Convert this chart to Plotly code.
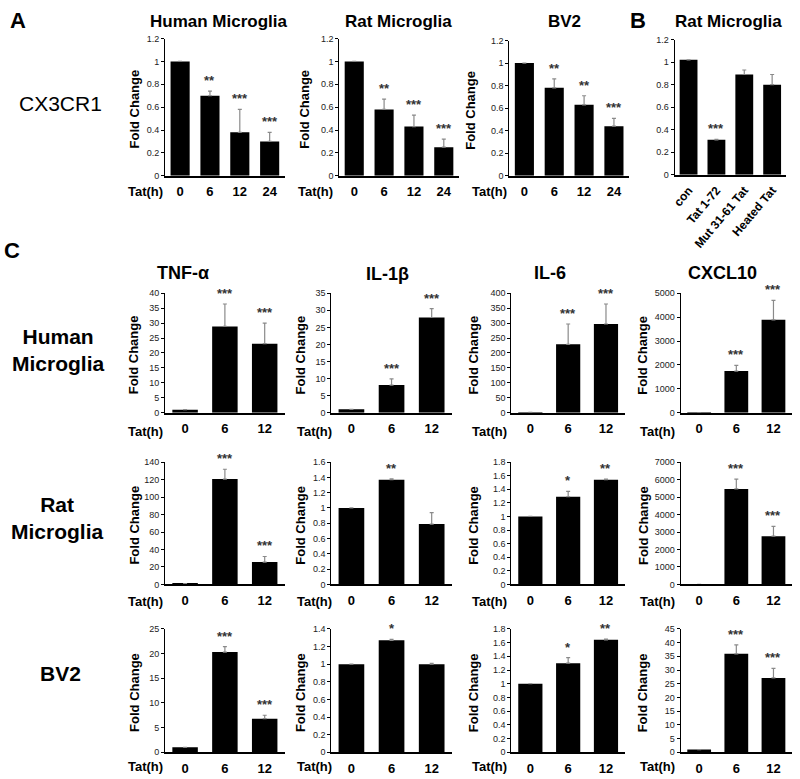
import plotly.graph_objects as go

W, H = 800, 779

# ---------------- DATA ----------------
times_A = ["0", "6", "12", "24"]
times_C = ["0", "6", "12"]
b_groups = ["con", "Tat 1-72", "Mut 31-61 Tat", "Heated Tat"]

# Panel A: CX3CR1
cx3_human = [1.0, 0.70, 0.38, 0.30]
cx3_human_err = [0, 0.04, 0.20, 0.08]
cx3_human_sig = ["", "**", "***", "***"]
cx3_rat = [1.0, 0.58, 0.43, 0.25]
cx3_rat_err = [0, 0.09, 0.10, 0.07]
cx3_rat_sig = ["", "**", "***", "***"]
cx3_bv2 = [1.0, 0.78, 0.63, 0.44]
cx3_bv2_err = [0, 0.08, 0.08, 0.07]
cx3_bv2_sig = ["", "**", "**", "***"]
# Panel B
b_rat = [1.02, 0.31, 0.89, 0.80]
b_rat_err = [0, 0.005, 0.04, 0.09]
b_rat_sig = ["", "***", "", ""]

# Panel C: human microglia
hu_tnf = [1, 28.9, 23.1]; hu_tnf_err = [0, 7.5, 6.9]; hu_tnf_sig = ["", "***", "***"]
hu_il1 = [1, 8.1, 27.9]; hu_il1_err = [0, 1.8, 2.6]; hu_il1_sig = ["", "***", "***"]
hu_il6 = [1, 229, 297]; hu_il6_err = [0, 68, 67]; hu_il6_sig = ["", "***", "***"]
hu_cxcl = [1, 1743, 3887]; hu_cxcl_err = [0, 240, 818]; hu_cxcl_sig = ["", "***", "***"]
# rat microglia
rat_tnf = [1, 120.5, 25.6]; rat_tnf_err = [0, 11.3, 6.4]; rat_tnf_sig = ["", "***", "***"]
rat_il1 = [1, 1.37, 0.79]; rat_il1_err = [0, 0.01, 0.15]; rat_il1_sig = ["", "**", ""]
rat_il6 = [1, 1.29, 1.54]; rat_il6_err = [0, 0.08, 0.01]; rat_il6_sig = ["", "*", "**"]
rat_cxcl = [1, 5466, 2761]; rat_cxcl_err = [0, 560, 560]; rat_cxcl_sig = ["", "***", "***"]
# BV2
bv_tnf = [1, 20.3, 6.8]; bv_tnf_err = [0, 1.1, 0.7]; bv_tnf_sig = ["", "***", "***"]
bv_il1 = [1, 1.27, 1.0]; bv_il1_err = [0, 0.01, 0.01]; bv_il1_sig = ["", "*", ""]
bv_il6 = [1, 1.30, 1.64]; bv_il6_err = [0, 0.08, 0.01]; bv_il6_sig = ["", "*", "**"]
bv_cxcl = [1, 35.9, 27.1]; bv_cxcl_err = [0, 3.3, 3.5]; bv_cxcl_sig = ["", "***", "***"]

# ---------------- LAYOUT SPEC ----------------
# (categories, values, errors, sig, ymax, dtick, x0px, x1px, ytop_px, ybase_px, foldchange_x, tat_x, tat_y)
panels = [
    (times_A, cx3_human, cx3_human_err, cx3_human_sig, 1.2, 0.2, 162, 282, 34, 173, 131, 142, 189),
    (times_A, cx3_rat, cx3_rat_err, cx3_rat_sig, 1.2, 0.2, 337, 457, 34, 173, 302, 313, 189),
    (times_A, cx3_bv2, cx3_bv2_err, cx3_bv2_sig, 1.2, 0.2, 508, 628, 36, 173, 468, 488, 189),
    (b_groups, b_rat, b_rat_err, b_rat_sig, 1.2, 0.2, 674, 786, 35, 172, None, None, None),
]
col_x = [(162, 282, 131, 142), (329, 450, 298, 312), (510, 624, 472, 488), (680, 792, 642, 657)]
row_y = [(292, 413, 432), (463, 587, 604), (632, 757, 771)]
c_data = [
    [(hu_tnf, hu_tnf_err, hu_tnf_sig, 40, 5), (hu_il1, hu_il1_err, hu_il1_sig, 35, 5),
     (hu_il6, hu_il6_err, hu_il6_sig, 400, 50), (hu_cxcl, hu_cxcl_err, hu_cxcl_sig, 5000, 1000)],
    [(rat_tnf, rat_tnf_err, rat_tnf_sig, 140, 20), (rat_il1, rat_il1_err, rat_il1_sig, 1.6, 0.2),
     (rat_il6, rat_il6_err, rat_il6_sig, 1.8, 0.2), (rat_cxcl, rat_cxcl_err, rat_cxcl_sig, 7000, 1000)],
    [(bv_tnf, bv_tnf_err, bv_tnf_sig, 25, 5), (bv_il1, bv_il1_err, bv_il1_sig, 1.4, 0.2),
     (bv_il6, bv_il6_err, bv_il6_sig, 1.8, 0.2), (bv_cxcl, bv_cxcl_err, bv_cxcl_sig, 45, 5)],
]
for r, (yt, yb, ty) in enumerate(row_y):
    for c, (x0, x1, fx, tx) in enumerate(col_x):
        v, e, s, ym, dt = c_data[r][c]
        panels.append((times_C, v, e, s, ym, dt, x0, x1, yt, yb, fx, tx, ty))

FONT = "Arial, Liberation Sans, Helvetica, sans-serif"
fig = go.Figure()
annotations = []
layout = {}

def px(xp):
    return xp / W

def py(yp):
    return 1 - yp / H

for i, (cats, vals, errs, sigs, ymax, dt, x0, x1, yt, yb, fx, tx, ty) in enumerate(panels):
    n = i + 1
    xa = "x" if n == 1 else f"x{n}"
    ya = "y" if n == 1 else f"y{n}"
    xk = "xaxis" if n == 1 else f"xaxis{n}"
    yk = "yaxis" if n == 1 else f"yaxis{n}"
    fig.add_trace(go.Bar(
        x=cats, y=vals, xaxis=xa, yaxis=ya, width=0.64,
        marker=dict(color="black", line=dict(width=0)),
        error_y=dict(type="data", symmetric=False, array=errs, arrayminus=[0] * len(errs),
                     color="#8a8a8a", thickness=1.2, width=2),
        showlegend=False, hoverinfo="skip",
    ))
    is_b = cats is b_groups
    layout[xk] = dict(
        type="category", domain=[px(x0), px(x1)], anchor=ya, range=[-0.5, len(cats) - 0.5],
        showline=True, linecolor="black", linewidth=1.5,
        ticks="", showgrid=False, zeroline=False, fixedrange=True,
        tickfont=dict(family=FONT, size=12 if is_b else 13, color="black", weight="bold"),
        tickangle=-50 if is_b else 0, ticklabelstandoff=2 if is_b else 3,
        categoryorder="array", categoryarray=cats,
    )
    layout[yk] = dict(
        domain=[py(yb), py(yt)], anchor=xa, range=[0, ymax], dtick=dt, tick0=0,
        showline=True, linecolor="black", linewidth=1.2, ticks="outside", ticklen=3,
        tickcolor="black", showgrid=False, zeroline=False, exponentformat="none",
        tickfont=dict(family=FONT, size=9, color="#222"), fixedrange=True,
    )
    for k, (v, e, s) in enumerate(zip(vals, errs, sigs)):
        if s:
            annotations.append(dict(x=k, y=v + e, xref=xa, yref=ya, text=s, showarrow=False,
                                    xanchor="center", yanchor="bottom", yshift=1,
                                    font=dict(family=FONT, size=13, color="#333", weight="bold")))
    if fx is not None:
        annotations.append(dict(x=px(fx), y=py((yt + yb) / 2 + 2), xref="paper", yref="paper",
                                text="Fold Change", textangle=-90, showarrow=False,
                                xanchor="center", yanchor="middle",
                                font=dict(family=FONT, size=13, color="black", weight="bold")))
        annotations.append(dict(x=px(tx), y=py(ty), xref="paper", yref="paper", text="Tat(h)",
                                showarrow=False, xanchor="center", yanchor="middle",
                                font=dict(family=FONT, size=13, color="black", weight="bold")))

# titles and labels
texts = [
    ("A", 14, 16, 22), ("B", 637, 16, 22), ("C", 8, 249, 22),
    ("Human Microglia", 216, 17, 17), ("Rat Microglia", 396, 17, 17), ("BV2", 563, 17, 17),
    ("Rat Microglia", 728, 17, 17),
    ("TNF-α", 180, 271, 18), ("IL-1β", 385, 272, 18), ("IL-6", 549, 271, 18), ("CXCL10", 722, 271, 18),
    ("Human<br>Microglia", 55, 349, 21), ("Rat<br>Microglia", 54, 520, 21), ("BV2", 57, 677, 21),
]
for t, x, y, s in texts:
    annotations.append(dict(x=px(x), y=py(y), xref="paper", yref="paper", text=t, showarrow=False,
                            xanchor="center", yanchor="middle",
                            font=dict(family=FONT, size=s, color="black", weight="bold")))
annotations.append(dict(x=px(57), y=py(100), xref="paper", yref="paper", text="CX3CR1", showarrow=False,
                        xanchor="center", yanchor="middle",
                        font=dict(family=FONT, size=21, color="black")))

fig.update_layout(
    width=W, height=H, margin=dict(l=0, r=0, t=0, b=0),
    paper_bgcolor="white", plot_bgcolor="white",
    annotations=annotations, **layout,
)
fig.write_html("out.html", config={"displayModeBar": False},
               post_script="document.body.style.margin='0px';document.body.style.overflow='hidden';")
